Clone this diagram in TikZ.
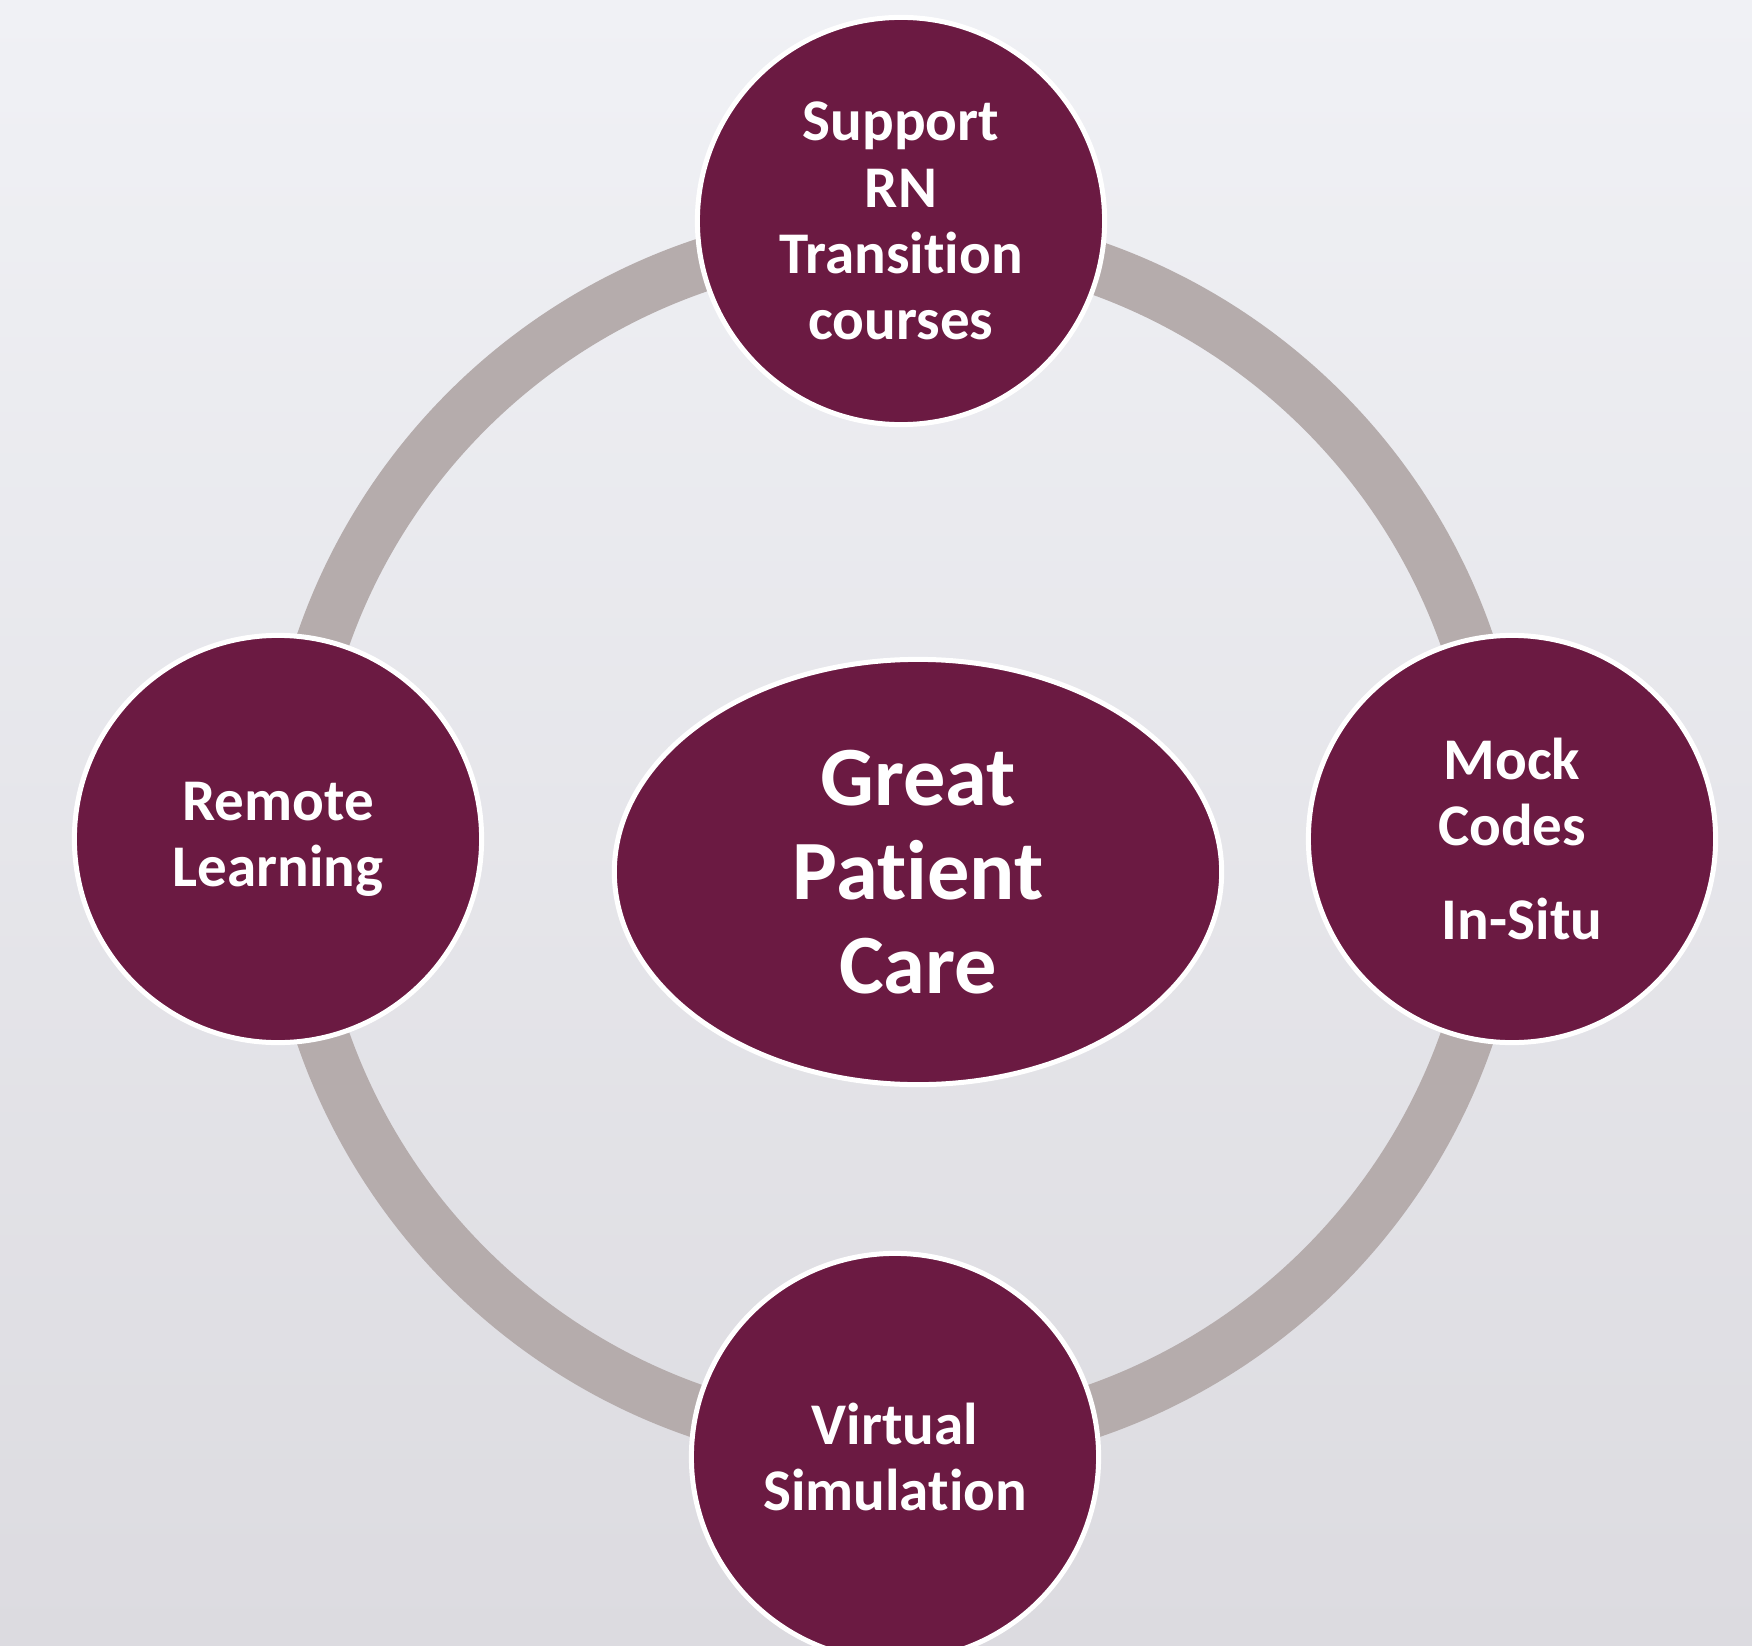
\documentclass[tikz,border=0pt]{standalone}
\usepackage{fontspec}
\setmainfont{Carlito}[Ligatures=NoCommon]
\usetikzlibrary{shapes.geometric}
\definecolor{plum}{HTML}{6B1A42}
\definecolor{ringgray}{HTML}{B5ACAC}
\definecolor{bgtop}{HTML}{F0F1F5}
\definecolor{bgbottom}{HTML}{DCDBE0}

\tikzset{
  topic/.style={circle, fill=plum, draw=white, line width=0.05cm,
    minimum size=4.07cm, inner sep=0pt, text=white, align=center,
    font=\bfseries\fontsize{16.8}{18.8}\selectfont},
  goal/.style={ellipse, fill=plum, draw=white, line width=0.05cm,
    minimum width=6.07cm, minimum height=4.25cm, inner sep=0pt,
    text=white, align=center, font=\bfseries\fontsize{24}{26.8}\selectfont},
  ring/.style={draw=ringgray, line width=0.53cm}
}

\begin{document}
\begin{tikzpicture}[x=0.01cm, y=-0.01cm]
  \useasboundingbox (0,0) rectangle (1752,1646);
  \clip (0,0) rectangle (1752,1646);
  \shade[top color=bgtop, bottom color=bgbottom] (0,0) rectangle (1752,1646);
  % ring behind the four topics
  \coordinate (hub) at (895,839);
  \draw[ring] (hub) circle[radius=6.05cm];
  \node[topic] (support) at (901,221) {Support\\RN\\Transition\\courses};
  \node[topic] (remote) at (278,839) {Remote\\Learning};
  \node[topic] (mock) at (1512,839) {Mock\\Codes\\[8pt]\hspace{0.2cm}In-Situ};
  \node[topic] (virtual) at (895,1457) {Virtual\\Simulation};
  \node[goal] (care) at (918,872) {Great\\Patient\\Care};
\end{tikzpicture}
\end{document}
